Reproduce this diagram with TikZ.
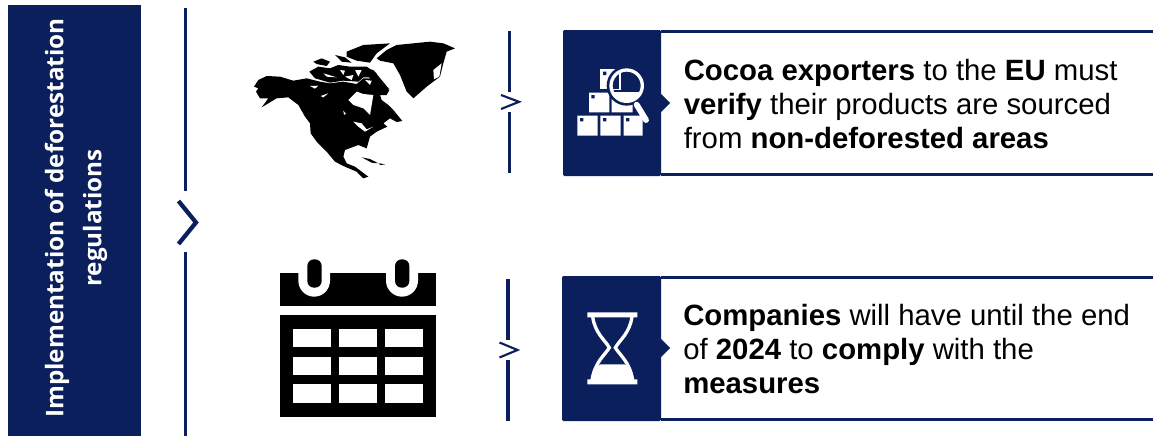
\documentclass[tikz,border=0pt]{standalone}
\usepackage{fontspec}
\setmainfont{Liberation Sans}
\newfontfamily\headfont{Open Sans}
\definecolor{navy}{HTML}{0A1F5C}
\tikzset{
  x=0.75pt,y=-0.75pt,
  rule/.style={draw=navy,line width=2.5pt},
  chev/.style={draw=navy,line width=1.6pt,fill=none},
  chevbig/.style={draw=navy,line width=3.2pt,fill=none},
  panel/.style={fill=navy,draw=none},
  frameline/.style={draw=navy,line width=1.8pt},
  body/.style={font=\fontsize{22}{25.6}\selectfont,align=left,anchor=west,inner sep=0pt,text=black},
  head/.style={font=\headfont\bfseries\fontsize{18.2}{28.5}\selectfont,align=center,text=white,rotate=90,inner sep=0pt},
  ink/.style={fill=black,draw=none},
  paper/.style={fill=white,draw=none},
}
\begin{document}
\begin{tikzpicture}
\useasboundingbox (0,0) rectangle (1153,436);
% header
\fill[panel] (8,5) rectangle (141,436);
\node[head] (title) at (76,218) {Implementation of deforestation\\regulations};
% main rule
\coordinate (m1) at (185.7,8); \coordinate (m2) at (185.7,191);
\coordinate (m3) at (185.7,252); \coordinate (m4) at (185.7,436);
\draw[rule] (m1) -- (m2); \draw[rule] (m3) -- (m4);
\coordinate (mc1) at (178.5,201); \coordinate (mc2) at (196,222.5); \coordinate (mc3) at (178.5,244);
\draw[chevbig] (mc1) -- (mc2) -- (mc3);
% row 1 rule
\coordinate (a1) at (509.5,31); \coordinate (a2) at (509.5,92);
\coordinate (a3) at (509.5,112); \coordinate (a4) at (509.5,173);
\draw[rule] (a1) -- (a2); \draw[rule] (a3) -- (a4);
\coordinate (ac1) at (501,95); \coordinate (ac2) at (519,101.8); \coordinate (ac3) at (501,109);
\draw[chev] (ac1) -- (ac2) -- (ac3);
% row 2 rule
\coordinate (b1) at (508,279); \coordinate (b2) at (508,340);
\coordinate (b3) at (508,360); \coordinate (b4) at (508,421);
\draw[rule] (b1) -- (b2); \draw[rule] (b3) -- (b4);
\coordinate (bc1) at (499.5,342.5); \coordinate (bc2) at (517.5,350); \coordinate (bc3) at (499.5,357.5);
\draw[chev] (bc1) -- (bc2) -- (bc3);
% panels
\fill[panel,rounded corners=1pt] (563,30) rectangle (661,176);
\fill[panel] (661,94) -- (670,103) -- (661,112) -- cycle;
\draw[frameline] (661,31.5) -- (1153,31.5); \draw[frameline] (661,174.5) -- (1153,174.5);
\fill[panel,rounded corners=1pt] (562,276) rectangle (661,421);
\fill[panel] (661,339) -- (670,348) -- (661,357) -- cycle;
\draw[frameline] (661,277.5) -- (1153,277.5); \draw[frameline] (661,419.5) -- (1153,419.5);
% texts
\node[body] (t1) at (683.5,104) {\textbf{Cocoa exporters} to the \textbf{EU} must\\\textbf{verify} their products are sourced\\from \textbf{non-deforested areas}};
\node[body] (t2) at (683,349) {\textbf{Companies} will have until the end\\of \textbf{2024} to \textbf{comply} with the\\\textbf{measures}};
% boxes icon
\begin{scope}[xshift=367.5pt,yshift=-15pt,x=0.25pt,y=-0.25pt]
  \fill[paper] (262,287) rectangle (323,347) (331,287) rectangle (392,347) (401,287) rectangle (458,347);
  \fill[paper] (297,218) rectangle (358,277) (365,218) rectangle (428,277);
  \fill[paper] (331,148) rectangle (375,207);
  \fill[navy] (270,294) rectangle (280,304) (339,294) rectangle (349,304) (408,294) rectangle (418,304) (304,225) rectangle (314,235) (339,155) rectangle (349,165);
  \fill[navy] (410,197) circle[radius=60];
  \begin{scope}
    \clip (410,197) circle[radius=44];
    \fill[paper] (360,216) rectangle (460,250);
    \fill[paper] (360,207) rectangle (392,210);
    \fill[paper] (388,160) rectangle (392,210);
  \end{scope}
  \draw[white,line width=2.5pt] (410,197) circle[radius=47];
  \draw[white,line width=4.4pt,line cap=round] (440,254) -- (468,300);
\end{scope}
% hourglass icon
\begin{scope}[xshift=367.5pt,yshift=-198.75pt,x=0.25pt,y=-0.25pt]
  \fill[paper] (292,142) rectangle (442,157) (292,343) rectangle (442,358);
  \draw[white,line width=2.5pt] (308,155) .. controls (315,205) and (345,225) .. (358,248)
     .. controls (345,270) and (315,290) .. (306,345);
  \draw[white,line width=2.5pt] (426,155) .. controls (419,205) and (389,225) .. (376,248)
     .. controls (389,270) and (419,290) .. (428,345);
  \fill[paper] (302,345) .. controls (310,320) and (320,305) .. (330,298) -- (404,298) .. controls (414,305) and (424,320) .. (432,345) -- cycle;
\end{scope}
% map
\begin{scope}[xshift=172.5pt,yshift=-15pt,x=0.25pt,y=-0.25pt]
  \fill[ink] (72,200) -- (85,180) -- (110,168) -- (150,170) -- (190,182) -- (230,175) -- (270,185) -- (300,190) -- (340,185) -- (380,192) -- (400,175) -- (430,175) -- (460,195) -- (478,210) -- (470,225) -- (450,225) -- (455,240) -- (475,255) -- (490,270) -- (517,303) -- (500,306) -- (480,295) -- (460,310) -- (472,320) -- (440,335) -- (420,350) -- (410,385) -- (385,375) -- (345,390) -- (340,410) -- (350,430) -- (375,440) -- (395,455) -- (415,470) -- (400,475) -- (380,455) -- (340,438) -- (315,425) -- (290,395) -- (260,365) -- (242,340) -- (240,310) -- (225,290) -- (205,255) -- (175,232) -- (140,235) -- (95,262) -- (115,235) -- (90,235) -- (78,215) -- (85,205) -- cycle;
  % Greenland
  \fill[ink] (440,115) -- (470,90) -- (500,75) -- (600,65) -- (640,70) -- (675,85) -- (650,95) -- (640,130) -- (630,170) -- (590,200) -- (550,235) -- (530,215) -- (510,165) -- (490,130) -- (450,122) -- cycle;
  % Arctic islands
  \fill[ink] (350,95) -- (400,75) -- (480,70) -- (440,100) -- (420,128) -- (380,122) -- (350,110) -- cycle;
  \fill[ink] (315,105) -- (345,112) -- (365,128) -- (335,125) -- cycle;
  \fill[ink] (250,125) -- (275,115) -- (300,125) -- (290,138) -- (260,132) -- cycle;
  \fill[ink] (238,155) -- (265,140) -- (300,145) -- (325,135) -- (360,140) -- (410,140) -- (440,160) -- (430,172) -- (400,172) -- (385,185) -- (340,182) -- (300,188) -- (255,175) -- cycle;
  \fill[ink] (400,145) -- (430,150) -- (478,208) -- (450,200) -- (420,175) -- cycle;
  % Caribbean
  \fill[ink] (395,412) -- (420,417) -- (445,430) -- (425,428) -- cycle;
  \fill[ink] (447,430) -- (466,433) -- (450,435) -- cycle;
  % waters
  \fill[paper] (355,240) -- (380,215) -- (400,222) -- (430,225) -- (425,255) -- (420,285) -- (400,265) -- (370,255) -- cycle;
  \fill[paper] (370,305) -- (395,310) -- (410,328) -- (430,320) -- (405,335) -- (385,320) -- cycle;
  \fill[paper] (240,198) -- (265,197) -- (255,206) -- cycle;
  \fill[paper] (272,228) -- (295,220) -- (280,232) -- cycle;
  \fill[paper] (340,272) -- (348,282) -- (342,284) -- cycle;
  \fill[paper] (330,150) -- (345,152) -- (340,165) -- cycle;
  \fill[paper] (375,150) -- (395,150) -- (385,170) -- cycle;
  \fill[paper] (280,160) -- (320,172) -- (290,170) -- cycle;
  \fill[paper] (345,170) -- (370,165) -- (365,180) -- cycle;
  \fill[paper] (405,180) -- (425,182) -- (420,195) -- cycle;
  \fill[paper] (610,150) -- (635,130) -- (628,170) -- (612,178) -- cycle;
\end{scope}
% calendar
\begin{scope}[xshift=195pt,yshift=-187.5pt,x=0.25pt,y=-0.25pt]
  \fill[ink] (60,70) rectangle (528,167);
  \fill[paper] (115,60) -- (115,92) arc[start angle=180,end angle=0,x radius=47.5,y radius=48] -- (210,60) -- cycle;
  \fill[paper] (378,60) -- (378,92) arc[start angle=180,end angle=0,x radius=48,y radius=48] -- (474,60) -- cycle;
  \fill[ink,rounded corners=5pt] (142,28) rectangle (185,113);
  \fill[ink,rounded corners=5pt] (405,28) rectangle (448,113);
  \fill[ink] (60,195) rectangle (528,500);
  \foreach \cx in {100,238,376} \foreach \cy in {237,320,403}
    \fill[paper] (\cx,\cy) rectangle ++(112,55);
\end{scope}
\end{tikzpicture}
\end{document}
